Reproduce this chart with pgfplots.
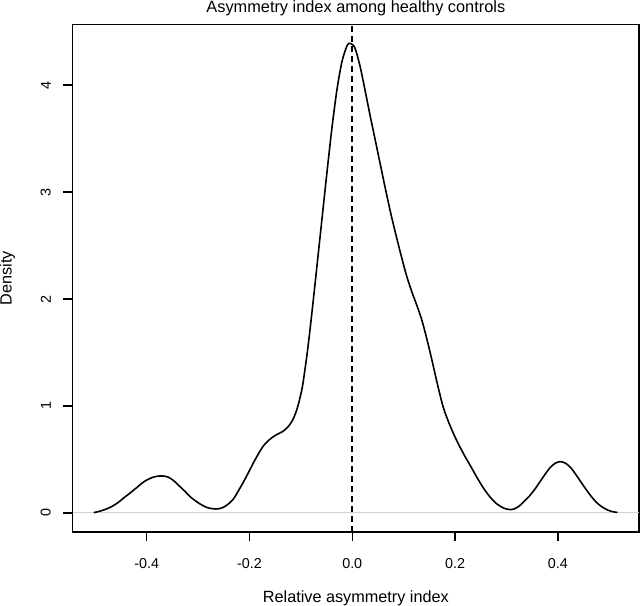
\documentclass[border=0pt]{standalone}
\usepackage{pgfplots}
\pgfplotsset{compat=1.18}
\usepackage{fontspec}
\setmainfont{Liberation Sans}

\pgfplotstableread{
x y
-0.503 0.003
-0.490 0.018
-0.478 0.038
-0.467 0.063
-0.455 0.100
-0.445 0.140
-0.434 0.180
-0.420 0.235
-0.410 0.275
-0.401 0.305
-0.390 0.330
-0.380 0.343
-0.369 0.346
-0.358 0.335
-0.347 0.300
-0.336 0.250
-0.325 0.200
-0.315 0.150
-0.304 0.110
-0.293 0.075
-0.282 0.050
-0.272 0.040
-0.265 0.037
-0.255 0.045
-0.245 0.070
-0.232 0.126
-0.220 0.220
-0.206 0.340
-0.190 0.490
-0.174 0.620
-0.160 0.690
-0.148 0.730
-0.136 0.760
-0.126 0.800
-0.117 0.860
-0.109 0.950
-0.102 1.070
-0.096 1.210
-0.087 1.520
-0.079 1.850
-0.070 2.250
-0.060 2.700
-0.050 3.150
-0.040 3.580
-0.030 3.950
-0.020 4.220
-0.010 4.370
-0.004 4.390
0.005 4.350
0.015 4.180
0.025 3.950
0.035 3.710
0.045 3.480
0.055 3.250
0.065 3.020
0.075 2.800
0.085 2.600
0.095 2.410
0.105 2.230
0.115 2.080
0.125 1.950
0.135 1.810
0.145 1.630
0.155 1.430
0.165 1.220
0.177 0.990
0.190 0.820
0.204 0.670
0.217 0.550
0.230 0.440
0.243 0.330
0.255 0.235
0.268 0.150
0.280 0.090
0.292 0.052
0.300 0.037
0.308 0.031
0.316 0.040
0.325 0.065
0.335 0.110
0.345 0.160
0.355 0.220
0.365 0.290
0.375 0.360
0.385 0.424
0.395 0.465
0.405 0.480
0.415 0.465
0.425 0.424
0.435 0.360
0.445 0.290
0.455 0.220
0.465 0.155
0.475 0.100
0.485 0.060
0.495 0.032
0.505 0.014
0.516 0.004
}\densitytable

\begin{document}
\begin{tikzpicture}
\path[use as bounding box] (-72.7bp,-74bp) rectangle (567.3bp,531.9bp);
\begin{axis}[
    at={(0,0)}, anchor=south west,
    scale only axis,
    width=566.3bp, height=507.3bp,
    xmin=-0.544, xmax=0.558,
    ymin=-0.177, ymax=4.566,
    axis line style={line width=1.4bp},
    xtick={-0.4,-0.2,0,0.2,0.4},
    xticklabels={-0.4,-0.2,0.0,0.2,0.4},
    ytick={0,1,2,3,4},
    yticklabels={0,1,2,3,4},
    tick align=outside,
    xtick pos=bottom, ytick pos=left,
    major tick length=9.5bp,
    tick style={line width=1.4bp, black},
    ticklabel style={font=\fontsize{14.4}{17}\selectfont},
    xticklabel style={anchor=base, yshift=-26.8bp},
    yticklabel style={rotate=90, anchor=south},
    yticklabel shift=8.9bp,
    title={Asymmetry index among healthy controls},
    title style={at={(0.5,1)}, anchor=base, yshift=5.7bp, font=\fontsize{16.4}{19}\selectfont},
    xlabel={Relative asymmetry index},
    xlabel style={at={(0.5,0)}, anchor=base, yshift=-70.3bp, font=\fontsize{16.3}{19}\selectfont},
    ylabel={Density},
    ylabel style={at={(axis description cs:-0.1151,0.5)}, anchor=center, font=\fontsize{16.3}{19}\selectfont},
]
\addplot[gray!35, line width=1bp] coordinates {(-0.544,0) (0.558,0)};
\addplot[black, line width=1.6bp, smooth, tension=0.5] table {\densitytable};
\addplot[black, line width=1.6bp, dash pattern=on 6bp off 4bp] coordinates {(0,-0.177) (0,4.566)};
\end{axis}
\end{tikzpicture}
\end{document}
